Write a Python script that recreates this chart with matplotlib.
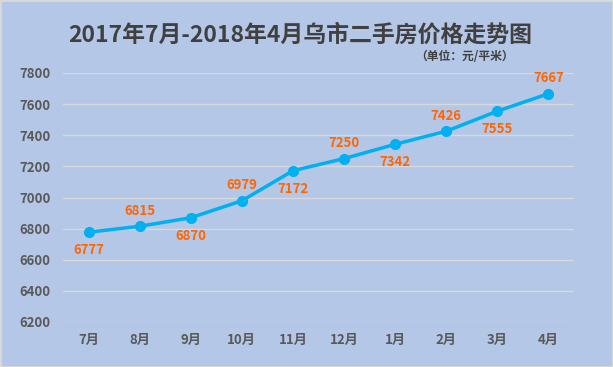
import matplotlib
matplotlib.use("Agg")
import matplotlib.pyplot as plt
from matplotlib.patches import Rectangle

plt.rcParams['font.family'] = ['Noto Sans CJK SC', 'DejaVu Sans']

months = ["7月", "8月", "9月", "10月", "11月", "12月", "1月", "2月", "3月", "4月"]
prices = [6777, 6815, 6870, 6979, 7172, 7250, 7342, 7426, 7555, 7667]
label_pos = ["below", "above", "below", "above", "below", "above", "below", "above", "below", "above"]
yticks = [6200, 6400, 6600, 6800, 7000, 7200, 7400, 7600, 7800]

bg = "#B4C7E7"
fig = plt.figure(figsize=(6.13, 3.67), dpi=100, facecolor=bg)
fig.patches.append(Rectangle((0, 0), 1, 1, transform=fig.transFigure, fill=False,
                             edgecolor="#D9D9D9", linewidth=2))
ax = fig.add_axes([63/613, 1-322/367, (574-63)/613, (322-73)/367])
ax.set_facecolor(bg)
x = list(range(len(months)))
ax.plot(x, prices, color="#00B0F0", linewidth=2.5, marker="o", markersize=7, zorder=3)
for xi, v, p in zip(x, prices, label_pos):
    off = 6 if p == "above" else -8
    ax.annotate(str(v), (xi, v), xytext=(0, off), textcoords="offset points",
                ha="center", va="bottom" if p == "above" else "top",
                color="#FF6600", fontsize=9.5, fontweight="bold")
ax.set_xlim(-0.5, len(months) - 0.5)
ax.set_ylim(6200, 7800)
ax.set_yticks(yticks)
ax.set_xticks(x)
ax.set_xticklabels(months)
ax.grid(axis="y", color="#D9D9D9", linewidth=1)
ax.set_axisbelow(True)
for s in ax.spines.values():
    s.set_visible(False)
ax.tick_params(length=0, colors="#595959", labelsize=9.5)
ax.tick_params(axis="y", pad=9)
ax.tick_params(axis="x", pad=8)
for t in ax.get_xticklabels() + ax.get_yticklabels():
    t.set_fontweight("bold")
fig.text(0.49, 0.905, "2017年7月-2018年4月乌市二手房价格走势图", ha="center", va="center",
         fontsize=16.5, fontweight="bold", color="#404040")
fig.text(0.757, 0.845, "（单位：元/平米）", ha="center", va="center",
         fontsize=8.5, fontweight="bold", color="#404040")
fig.savefig("out.png", dpi=100, facecolor=bg)
